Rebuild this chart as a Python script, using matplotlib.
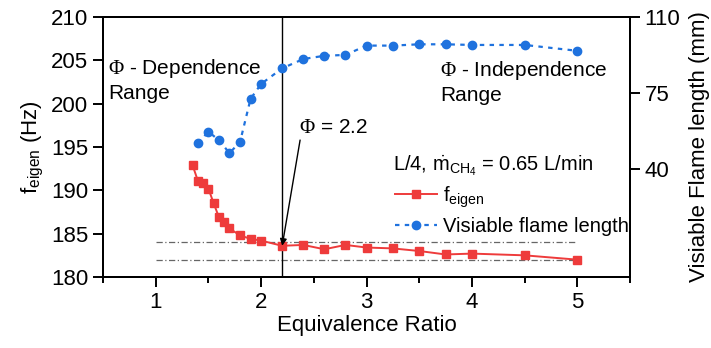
import matplotlib
matplotlib.use('Agg')
import matplotlib.pyplot as plt
from matplotlib.ticker import MultipleLocator

plt.rcParams['font.family'] = ['Liberation Sans', 'DejaVu Sans']
plt.rcParams['mathtext.fontset'] = 'custom'
plt.rcParams['mathtext.rm'] = 'Liberation Sans'
plt.rcParams['mathtext.it'] = 'Liberation Sans:italic'
plt.rcParams['mathtext.sf'] = 'Liberation Serif'

# ---- data ----
phi_f = [1.35, 1.40, 1.45, 1.50, 1.55, 1.60, 1.65, 1.70, 1.80, 1.90, 2.00,
         2.20, 2.40, 2.60, 2.80, 3.00, 3.25, 3.50, 3.75, 4.00, 4.50, 5.00]
f_eigen = [192.9, 191.1, 190.9, 190.2, 188.5, 186.9, 186.3, 185.6, 184.8, 184.4, 184.2,
           183.6, 183.7, 183.2, 183.7, 183.4, 183.3, 183.0, 182.6, 182.7, 182.5, 182.0]

phi_L = [1.40, 1.50, 1.60, 1.70, 1.80, 1.90, 2.00, 2.20, 2.40, 2.60, 2.80,
         3.00, 3.25, 3.50, 3.75, 4.00, 4.50, 5.00]
flame_len = [51.7, 57.1, 53.1, 47.2, 52.3, 72.2, 79.1, 86.3, 90.6, 92.1, 92.5,
             96.8, 96.8, 97.4, 97.4, 97.1, 97.1, 94.4]

ref_lines = [184.0, 182.0]
phi_crit = 2.2
f_ticks = [180, 185, 190, 195, 200, 205, 210]
L_ticks = [40, 75, 110]
x_ticks = [1, 2, 3, 4, 5]

red = '#ee3b3b'
blue = '#1f72de'

fig = plt.figure(figsize=(7.11, 3.48), dpi=100)
ax = fig.add_axes([103/711, 1-277/348, (630-103)/711, 260/348])
ax2 = ax.twinx()

ax.set_xlim(0.5, 5.5)
ax.set_ylim(180, 210)
ax2.set_ylim(-10, 110)

for h in ref_lines:
    ax.plot([1, 5], [h, h], color='#666666', lw=0.9, linestyle=(0, (5, 2, 1, 2)), zorder=1)
ax.axvline(phi_crit, color='black', lw=1.0, zorder=1)

l1, = ax.plot(phi_f, f_eigen, color=red, lw=1.4, marker='s', ms=5.5, zorder=3)
l2, = ax2.plot(phi_L, flame_len, color=blue, lw=1.6, linestyle=(0, (2.0, 2.4)),
               marker='o', ms=6, zorder=3)

ax.set_xticks(x_ticks)
ax.xaxis.set_minor_locator(MultipleLocator(0.5))
ax.set_yticks(f_ticks)
ax2.set_yticks(L_ticks)

for a in (ax, ax2):
    for s in a.spines.values():
        s.set_linewidth(1.4)
ax.tick_params(axis='both', which='major', direction='out', length=7, width=1.4, labelsize=16,
               top=False, right=False)
ax.tick_params(axis='x', which='minor', direction='out', length=4, width=1.4, top=False)
ax.tick_params(axis='y', which='minor', left=False, right=False)
ax2.tick_params(axis='y', which='major', direction='out', length=7, width=1.4, labelsize=16)

ax.set_xlabel('Equivalence Ratio', fontsize=16, labelpad=2)
ax.set_ylabel(r'$\mathrm{f_{eigen}}$ (Hz)', fontsize=16, labelpad=4)
ax2.set_ylabel('Visiable Flame length (mm)', fontsize=16, labelpad=6)

fs_ann = 15
ax.text(0.55, 204.1, r'$\mathsf{\Phi}$ - Dependence', fontsize=fs_ann, ha='left', va='center')
ax.text(0.55, 201.2, 'Range', fontsize=fs_ann, ha='left', va='center')
ax.text(3.70, 203.8, r'$\mathsf{\Phi}$ - Independence', fontsize=fs_ann, ha='left', va='center')
ax.text(3.70, 200.9, 'Range', fontsize=fs_ann, ha='left', va='center')
ax.text(2.36, 197.3, r'$\mathsf{\Phi}$ = 2.2', fontsize=fs_ann, ha='left', va='center')
ax.annotate('', xy=(phi_crit, 183.6), xytext=(2.37, 195.8),
            arrowprops=dict(arrowstyle='-|>', color='black', lw=1.0, mutation_scale=10,
                            shrinkA=0, shrinkB=0))
ax.text(3.25, 192.9, r'L/4, $\dot{\mathrm{m}}_{\mathrm{CH_4}}$ = 0.65 L/min', fontsize=14.5,
        ha='left', va='center')

leg = ax2.legend([l1, l2], [r'$\mathrm{f_{eigen}}$', 'Visiable flame length'],
                 loc='upper left', bbox_to_anchor=(385/711, 1-174/348),
                 bbox_transform=fig.transFigure, frameon=False, fontsize=14.5,
                 handlelength=2.1, handletextpad=0.3, borderpad=0, labelspacing=0.35)

fig.savefig('out.png', dpi=100)
